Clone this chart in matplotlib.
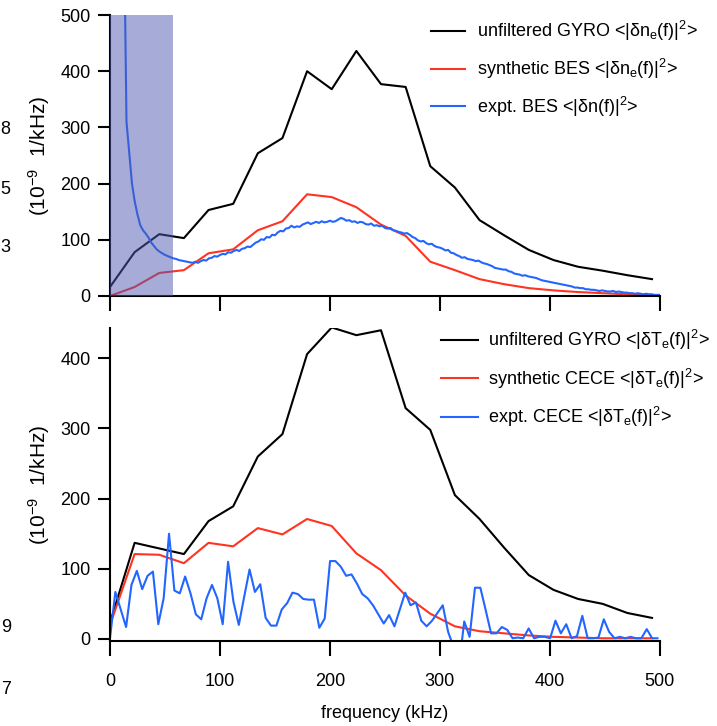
import matplotlib
matplotlib.use("Agg")
import matplotlib.pyplot as plt
import numpy as np

plt.rcParams['font.family'] = ['Liberation Sans', 'DejaVu Sans']
plt.rcParams['mathtext.default'] = 'regular'

# model spectra on a coarse grid (kHz)
freq_model = np.arange(23) * 22.4

gyro_ne = [16, 78, 110, 103, 153, 164, 254, 281, 400, 368, 436, 377, 372, 231,
           193, 135, 108, 82, 64, 52, 45, 37, 30]
bes_synth = [0, 16, 41, 46, 76, 83, 117, 133, 181, 176, 158, 127, 107, 61,
             46, 30, 21, 14, 10, 7, 5, 3, 2]

gyro_te = [23, 137, 129, 121, 168, 189, 260, 292, 406, 444, 433, 440, 329, 298,
           205, 171, 130, 91, 70, 57, 50, 37, 30]
cece_synth = [20, 121, 120, 108, 137, 132, 158, 149, 171, 161, 122, 98, 62, 36,
              18, 11, 8, 5, 3, 2, 1, 1, 1]

# measured BES spectrum (2.5 kHz steps from 12.5 kHz)
bes_expt = [700, 310, 255, 200, 168, 145, 126, 117, 111, 104, 95, 89, 83, 79, 76,
            73, 71, 69, 67, 66, 64, 63, 62, 61, 60, 59, 61, 59, 62, 64, 63, 67, 68,
            71, 70, 73, 75, 74, 78, 77, 80, 82, 80, 84, 85, 88, 87, 91, 95, 97, 101,
            100, 105, 104, 109, 108, 113, 116, 115, 120, 121, 125, 122, 124, 123,
            127, 129, 131, 128, 130, 132, 130, 133, 131, 132, 134, 132, 133, 136,
            139, 137, 134, 135, 132, 133, 130, 132, 131, 128, 127, 129, 125, 126,
            124, 125, 121, 120, 121, 117, 116, 114, 113, 111, 112, 109, 105, 103,
            99, 97, 98, 94, 92, 93, 89, 87, 86, 84, 81, 82, 77, 76, 73, 71, 68, 69,
            66, 65, 64, 62, 63, 60, 58, 57, 55, 53, 50, 49, 48, 47, 47, 44, 43, 40,
            39, 38, 36, 37, 35, 34, 33, 32, 30, 28, 27, 26, 25, 24, 23, 22, 21, 20,
            19, 18, 17, 15, 15, 14, 14, 12, 12, 11, 11, 10, 9, 10, 9, 8, 8, 9, 7, 8,
            7, 6, 6, 5, 5, 4, 5, 4, 3, 4, 3, 3, 2, 2, 2]
freq_bes = 12.5 + np.arange(len(bes_expt)) * 2.5

# measured CECE spectrum (4.88 kHz steps)
cece_expt = [1, 67, 42, 17, 77, 97, 71, 90, 96, 21, 58, 150, 69, 65, 89, 65, 35,
             28, 58, 77, 58, 21, 110, 53, 20, 60, 99, 67, 78, 30, 19, 19, 42, 51,
             66, 64, 57, 56, 56, 16, 29, 111, 111, 103, 90, 92, 79, 64, 58, 48, 35,
             22, 34, 18, 42, 66, 48, 52, 26, 18, 26, 37, 48, 10, -11, -40, 25, 3,
             73, 73, 41, 8, 8, 17, 13, 1, 2, 1, 15, 1, 3, 3, 1, 26, 8, 21, 1, 4, 33,
             1, 1, 2, 28, 10, 1, 3, 1, 3, 1, 1, 14, 1, 1]
freq_cece = np.arange(len(cece_expt)) * 4.88

shade_range = (0, 57)

red = '#ff3322'
blue = '#2266ff'
fs = 13

fig = plt.figure(figsize=(7.17, 7.26), dpi=100)
ax1 = fig.add_axes([0.1534, 0.5923, 0.767, 0.387])
ax2 = fig.add_axes([0.1534, 0.117, 0.767, 0.431])

ax1.plot(freq_model, gyro_ne, color='black', lw=1.5,
         label='unfiltered GYRO <|δn$_e$(f)|$^2$>')
ax1.plot(freq_model, bes_synth, color=red, lw=1.5,
         label='synthetic BES <|δn$_e$(f)|$^2$>')
ax1.plot(freq_bes, bes_expt, color=blue, lw=1.5,
         label='expt. BES <|δn(f)|$^2$>')
ax1.axvspan(shade_range[0], shade_range[1], color='#5159b1', alpha=0.5,
            lw=0, zorder=5)
ax1.set_xlim(0, 500)
ax1.set_ylim(0, 500)
ax1.set_xticks(np.arange(0, 501, 100))
ax1.set_xticklabels([])
ax1.set_yticks(np.arange(0, 501, 100))

ax2.plot(freq_model, gyro_te, color='black', lw=1.5,
         label='unfiltered GYRO <|δT$_e$(f)|$^2$>')
ax2.plot(freq_model, cece_synth, color=red, lw=1.5,
         label='synthetic CECE <|δT$_e$(f)|$^2$>')
ax2.plot(freq_cece, cece_expt, color=blue, lw=1.5,
         label='expt. CECE <|δT$_e$(f)|$^2$>')
ax2.set_xlim(0, 500)
ax2.set_ylim(-3, 443)
ax2.set_xticks(np.arange(0, 501, 100))
ax2.set_yticks(np.arange(0, 401, 100))
ax2.set_xlabel('frequency (kHz)', fontsize=fs, labelpad=11)

for ax in (ax1, ax2):
    ax.spines['top'].set_visible(False)
    ax.spines['right'].set_visible(False)
    ax.spines['left'].set_linewidth(1.5)
    ax.spines['bottom'].set_linewidth(1.5)
    ax.tick_params(axis='y', direction='out', length=9, width=1.5,
                   labelsize=fs, pad=5)
    ax.tick_params(axis='x', direction='out', length=11, width=1.5,
                   labelsize=fs, pad=12)
    ax.set_ylabel('(10$^{-9}$  1/kHz)', fontsize=15)
    ax.yaxis.set_label_coords(-0.105, 0.5)

ax1.legend(loc='upper right', bbox_to_anchor=(1.07, 0.985), frameon=False,
           fontsize=fs, handlelength=1.9, handletextpad=0.7, labelspacing=0.75,
           borderpad=0, borderaxespad=0)
ax2.legend(loc='upper right', bbox_to_anchor=(1.09, 1.0), frameon=False,
           fontsize=fs, handlelength=2.1, handletextpad=0.5, labelspacing=0.8,
           borderpad=0, borderaxespad=0)

# labels of a neighbouring panel showing at the left edge
for y, s in [(130, '8'), (190, '5'), (248, '3'), (628, '9'), (690, '7')]:
    fig.text(0.001, 1 - y / 726, s, fontsize=fs, ha='left', va='center')

fig.savefig('out.png', dpi=100)
